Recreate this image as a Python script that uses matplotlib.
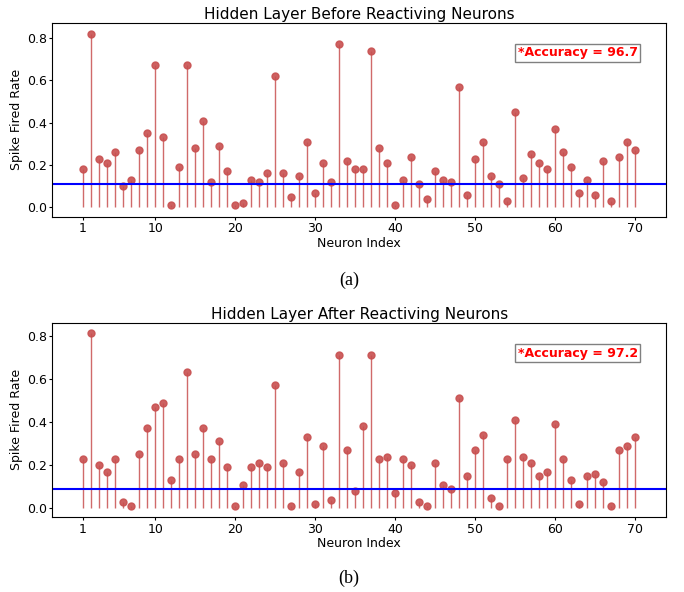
import matplotlib
matplotlib.use("Agg")
import matplotlib.pyplot as plt
import numpy as np

neurons = list(range(1, 71))

before_rates = [0.18, 0.82, 0.23, 0.21, 0.26, 0.10, 0.13, 0.27, 0.35, 0.67,
                0.33, 0.01, 0.19, 0.67, 0.28, 0.41, 0.12, 0.29, 0.17, 0.01,
                0.02, 0.13, 0.12, 0.16, 0.62, 0.16, 0.05, 0.15, 0.31, 0.07,
                0.21, 0.12, 0.77, 0.22, 0.18, 0.18, 0.74, 0.28, 0.21, 0.01,
                0.13, 0.24, 0.11, 0.04, 0.17, 0.13, 0.12, 0.57, 0.06, 0.23,
                0.31, 0.15, 0.11, 0.03, 0.45, 0.14, 0.25, 0.21, 0.18, 0.37,
                0.26, 0.19, 0.07, 0.13, 0.06, 0.22, 0.03, 0.24, 0.31, 0.27]

after_rates = [0.23, 0.81, 0.20, 0.17, 0.23, 0.03, 0.01, 0.25, 0.37, 0.47,
               0.49, 0.13, 0.23, 0.63, 0.25, 0.37, 0.23, 0.31, 0.19, 0.01,
               0.11, 0.19, 0.21, 0.19, 0.57, 0.21, 0.01, 0.17, 0.33, 0.02,
               0.29, 0.04, 0.71, 0.27, 0.08, 0.38, 0.71, 0.23, 0.24, 0.07,
               0.23, 0.20, 0.03, 0.01, 0.21, 0.11, 0.09, 0.51, 0.15, 0.27,
               0.34, 0.05, 0.01, 0.23, 0.41, 0.24, 0.21, 0.15, 0.17, 0.39,
               0.23, 0.13, 0.02, 0.15, 0.16, 0.12, 0.01, 0.27, 0.29, 0.33]

thresholds = [0.11, 0.09]
accuracies = ["96.7", "97.2"]
titles = ["Hidden Layer Before Reactiving Neurons",
          "Hidden Layer After Reactiving Neurons"]
captions = ["(a)", "(b)"]
xtick_vals = [1, 10, 20, 30, 40, 50, 60, 70]
ytick_vals = [0.0, 0.2, 0.4, 0.6, 0.8]

W, H = 684, 592
fig = plt.figure(figsize=(W / 100, H / 100), dpi=100)

stem_color = "#c85050"

# axes boxes in pixels: left, top, right, bottom
boxes = [(52.3, 22.7, 666, 216.7), (52.3, 322.7, 666, 517)]
ylims = [(-0.044, 0.872), (-0.040, 0.860)]
cap_y = [280, 578]

for i, rates in enumerate([before_rates, after_rates]):
    l, t, r, b = boxes[i]
    ax = fig.add_axes([l / W, 1 - b / H, (r - l) / W, (b - t) / H])
    ml, sl, bl = ax.stem(neurons, rates, basefmt=" ")
    plt.setp(sl, color=stem_color, linewidth=1.0, alpha=0.85)
    plt.setp(ml, color=stem_color, markersize=5, alpha=0.9)
    ax.axhline(thresholds[i], color="blue", linewidth=1.5)
    ax.set_xlim(-2.85, 73.85)
    ax.set_ylim(*ylims[i])
    ax.set_xticks(xtick_vals)
    ax.set_yticks(ytick_vals)
    ax.set_yticklabels([f"{v:.1f}" for v in ytick_vals])
    ax.tick_params(labelsize=9, length=2.5, pad=1.5)
    ax.set_xlabel("Neuron Index", fontsize=9, labelpad=1)
    ax.set_ylabel("Spike Fired Rate", fontsize=9, labelpad=3)
    ax.set_title(titles[i], fontsize=11, pad=3)
    ax.text(0.954, 0.844, f"*Accuracy = {accuracies[i]}", transform=ax.transAxes,
            ha="right", va="center", color="red", fontsize=9, fontweight="bold",
            bbox=dict(facecolor="white", edgecolor="gray", boxstyle="square,pad=0.2"))
    fig.text(349 / W, 1 - cap_y[i] / H, captions[i], ha="center", va="center",
             fontsize=13, family="Liberation Serif")

fig.savefig("out.png", dpi=100)
